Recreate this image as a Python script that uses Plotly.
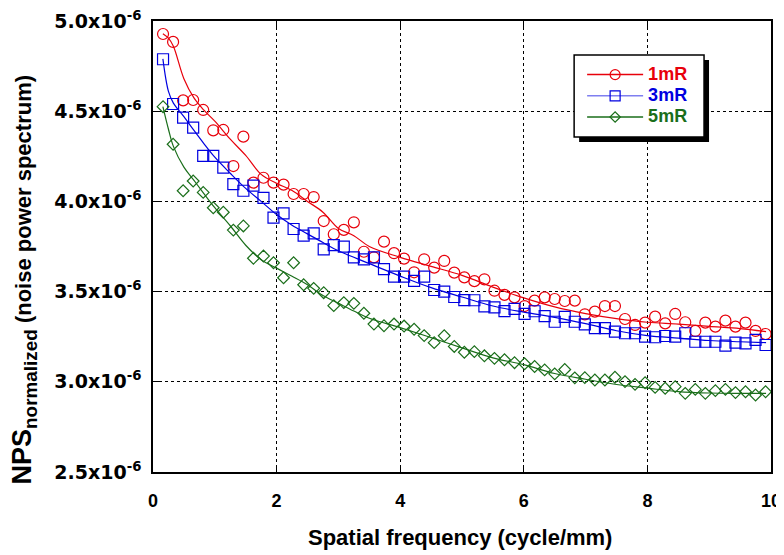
import plotly.graph_objects as go

# ---------------- data ----------------
freq = [0.1625, 0.325, 0.4875, 0.65, 0.8125, 0.975, 1.1375, 1.3, 1.4625, 1.625,
        1.7875, 1.95, 2.1125, 2.275, 2.4375, 2.6, 2.7625, 2.925, 3.0875, 3.25,
        3.4125, 3.575, 3.7375, 3.9, 4.0625, 4.225, 4.3875, 4.55, 4.7125, 4.875,
        5.0375, 5.2, 5.3625, 5.525, 5.6875, 5.85, 6.0125, 6.175, 6.3375, 6.5,
        6.6625, 6.825, 6.9875, 7.15, 7.3125, 7.475, 7.6375, 7.8, 7.9625, 8.125,
        8.2875, 8.45, 8.6125, 8.775, 8.9375, 9.1, 9.2625, 9.425, 9.5875, 9.75,
        9.9125]

nps_1mR = [4.928, 4.884, 4.560, 4.562, 4.507, 4.394, 4.396, 4.196, 4.359, 4.104,
           4.131, 4.104, 4.093, 4.041, 4.041, 4.024, 3.891, 3.818, 3.842, 3.884,
           3.721, 3.690, 3.777, 3.713, 3.683, 3.607, 3.679, 3.633, 3.670, 3.605,
           3.579, 3.558, 3.568, 3.505, 3.482, 3.468, 3.420, 3.450, 3.468, 3.459,
           3.448, 3.450, 3.374, 3.389, 3.420, 3.420, 3.348, 3.315, 3.328, 3.361,
           3.324, 3.376, 3.330, 3.282, 3.328, 3.306, 3.339, 3.306, 3.328, 3.282,
           3.265]

nps_3mR = [4.788, 4.540, 4.464, 4.409, 4.252, 4.252, 4.187, 4.096, 4.059, 4.087,
           4.020, 3.910, 3.934, 3.847, 3.810, 3.823, 3.734, 3.758, 3.749, 3.690,
           3.679, 3.690, 3.625, 3.583, 3.583, 3.559, 3.583, 3.509, 3.500, 3.470,
           3.453, 3.452, 3.418, 3.413, 3.392, 3.404, 3.376, 3.391, 3.364, 3.333,
           3.360, 3.333, 3.318, 3.298, 3.298, 3.278, 3.269, 3.269, 3.250, 3.247,
           3.254, 3.250, 3.269, 3.222, 3.222, 3.222, 3.200, 3.217, 3.213, 3.232,
           3.204]

nps_5mR = [4.525, 4.317, 4.059, 4.113, 4.050, 3.965, 3.940, 3.841, 3.864, 3.685,
           3.697, 3.660, 3.577, 3.660, 3.538, 3.518, 3.494, 3.422, 3.439, 3.435,
           3.380, 3.320, 3.311, 3.320, 3.309, 3.291, 3.256, 3.217, 3.255, 3.196,
           3.164, 3.167, 3.144, 3.130, 3.122, 3.106, 3.100, 3.085, 3.066, 3.044,
           3.068, 3.022, 3.023, 3.010, 3.010, 3.025, 3.001, 2.986, 2.995, 2.969,
           2.964, 2.973, 2.936, 2.958, 2.936, 2.951, 2.958, 2.940, 2.945, 2.927,
           2.945]

# smoothed fit curves (at these frequencies)
fit_freq = [0.16, 0.25, 0.33, 0.5, 0.66, 0.82, 1.0, 1.25, 1.5, 1.75, 2.0, 2.25,
            2.5, 2.75, 3.0, 3.25, 3.5, 4.0, 4.5, 5.0, 5.5, 6.0, 6.5, 7.0, 7.5,
            8.0, 8.5, 9.0, 9.5, 9.92]
fit_1mR = [4.930, 4.905, 4.860, 4.680, 4.575, 4.507, 4.445, 4.345, 4.255, 4.150,
           4.100, 4.060, 4.000, 3.940, 3.850, 3.810, 3.750, 3.690, 3.640, 3.590,
           3.525, 3.465, 3.415, 3.378, 3.350, 3.330, 3.320, 3.307, 3.295, 3.278]
fit_3mR = [4.790, 4.610, 4.545, 4.470, 4.395, 4.322, 4.245, 4.156, 4.072, 4.000,
           3.927, 3.868, 3.820, 3.772, 3.726, 3.690, 3.655, 3.586, 3.522, 3.470,
           3.420, 3.386, 3.357, 3.322, 3.283, 3.256, 3.242, 3.229, 3.222, 3.217]
fit_5mR = [4.525, 4.400, 4.305, 4.190, 4.118, 4.045, 3.965, 3.865, 3.757, 3.677,
           3.630, 3.585, 3.538, 3.478, 3.435, 3.392, 3.352, 3.300, 3.245, 3.188,
           3.133, 3.095, 3.046, 3.014, 2.985, 2.965, 2.946, 2.938, 2.936, 2.936]

series_names = ["1mR", "3mR", "5mR"]
x_ticks = [0, 2, 4, 6, 8, 10]
y_ticks = [2.5e-6, 3.0e-6, 3.5e-6, 4.0e-6, 4.5e-6, 5.0e-6]
y_tick_text = ["2.5x10<sup>-6</sup>", "3.0x10<sup>-6</sup>", "3.5x10<sup>-6</sup>",
               "4.0x10<sup>-6</sup>", "4.5x10<sup>-6</sup>", "5.0x10<sup>-6</sup>"]
x_title = "Spatial frequency (cycle/mm)"
y_title = ("<span style='font-size:27px'>NPS<sub>normalized</sub></span>"
           " (noise power spectrum)")

# ---------------- styling ----------------
colors = ["#e8000b", "#0000e0", "#1a6e1a"]
legend_line_colors = ["#e8000b", "#7f7ff0", "#1a6e1a"]
symbols = ["circle-open", "square-open", "diamond-open"]
sizes = [11, 11, 9]
FONT = "Liberation Sans, Arial, sans-serif"
TICKFONT_Y = "DejaVu Sans, Liberation Sans, sans-serif"

# the page body has an 8px margin, so the figure is made 8px smaller
W, H = 776, 547
L, R, T, B = 144.6, 13, 13, 83
pw, ph = W - L - R, H - T - B
OFF = 8


def s2p(x, y):
    """screen pixel -> paper coordinates"""
    return (x - OFF - L) / pw, (H - B - (y - OFF)) / ph


fig = go.Figure()
points = [nps_1mR, nps_3mR, nps_5mR]
fits = [fit_1mR, fit_3mR, fit_5mR]
for i, name in enumerate(series_names):
    fig.add_trace(go.Scatter(
        x=fit_freq, y=[v * 1e-6 for v in fits[i]], mode="lines",
        line=dict(color=colors[i], width=1.2, shape="spline", smoothing=1.0),
        showlegend=False, hoverinfo="skip"))
    fig.add_trace(go.Scatter(
        x=freq, y=[v * 1e-6 for v in points[i]], mode="markers",
        marker=dict(symbol=symbols[i], size=sizes[i], color=colors[i],
                    line=dict(width=1.2, color=colors[i])),
        showlegend=False, name=name))
    # legend entry
    fig.add_trace(go.Scatter(
        x=[None], y=[None], mode="lines+markers",
        name=f"<span style='color:{colors[i]};font-size:18px'>{name}</span>",
        line=dict(color=legend_line_colors[i], width=1.5),
        marker=dict(symbol=symbols[i], size=sizes[i] - 1, color=colors[i],
                    line=dict(width=1.2, color=colors[i]))))

# legend box with shadow
bx0, by0 = s2p(574, 55)
bx1, by1 = s2p(704, 137)
sx0, sy0 = s2p(579, 60)
sx1, sy1 = s2p(709, 142)
fig.add_shape(type="rect", xref="paper", yref="paper", x0=sx0, x1=sx1, y0=sy1, y1=sy0,
              fillcolor="black", line=dict(width=0), layer="above")
fig.add_shape(type="rect", xref="paper", yref="paper", x0=bx0, x1=bx1, y0=by1, y1=by0,
              fillcolor="white", line=dict(color="black", width=1.5), layer="above")

lx, ly = s2p(582, 59)
xtx, xty = s2p(460, 537)
ytx, yty = s2p(24, 279)

fig.add_annotation(text=x_title, xref="paper", yref="paper", x=xtx, y=xty,
                   xanchor="center", yanchor="middle", showarrow=False,
                   font=dict(size=22, family=FONT, weight="bold", color="black"))
fig.add_annotation(text=y_title, xref="paper", yref="paper", x=ytx, y=yty,
                   xanchor="center", yanchor="middle", showarrow=False, textangle=-90,
                   font=dict(size=22, family=FONT, weight="bold", color="black"))

fig.update_layout(
    width=W, height=H,
    margin=dict(l=L, r=R, t=T, b=B, pad=0, autoexpand=False),
    paper_bgcolor="white", plot_bgcolor="white",
    font=dict(family=FONT, color="black"),
    showlegend=True,
    legend=dict(x=lx, y=ly, xanchor="left", yanchor="top",
                bgcolor="rgba(0,0,0,0)", borderwidth=0,
                font=dict(size=14, family=FONT, weight="bold"),
                tracegroupgap=0, itemwidth=56),
    xaxis=dict(range=[0, 10], tickvals=x_ticks, ticktext=[str(t) for t in x_ticks],
               automargin=False, ticklabeloverflow="allow",
               showgrid=True, gridcolor="black", griddash="dot", gridwidth=1,
               zeroline=False, showline=True, linecolor="black", linewidth=1.5,
               mirror="ticks", ticks="inside", ticklen=7, tickcolor="black",
               ticklabelstandoff=12,
               tickfont=dict(size=18, family=FONT, weight="bold")),
    yaxis=dict(range=[2.5e-6, 5.0e-6], tickvals=y_ticks, ticktext=y_tick_text,
               automargin=False, ticklabeloverflow="allow",
               showgrid=True, gridcolor="black", griddash="dot", gridwidth=1,
               zeroline=False, showline=True, linecolor="black", linewidth=1.5,
               mirror="ticks", ticks="inside", ticklen=7, tickcolor="black",
               ticklabelstandoff=6,
               tickfont=dict(size=19, family=TICKFONT_Y, weight="bold")),
)

fig.write_html("out.html")
